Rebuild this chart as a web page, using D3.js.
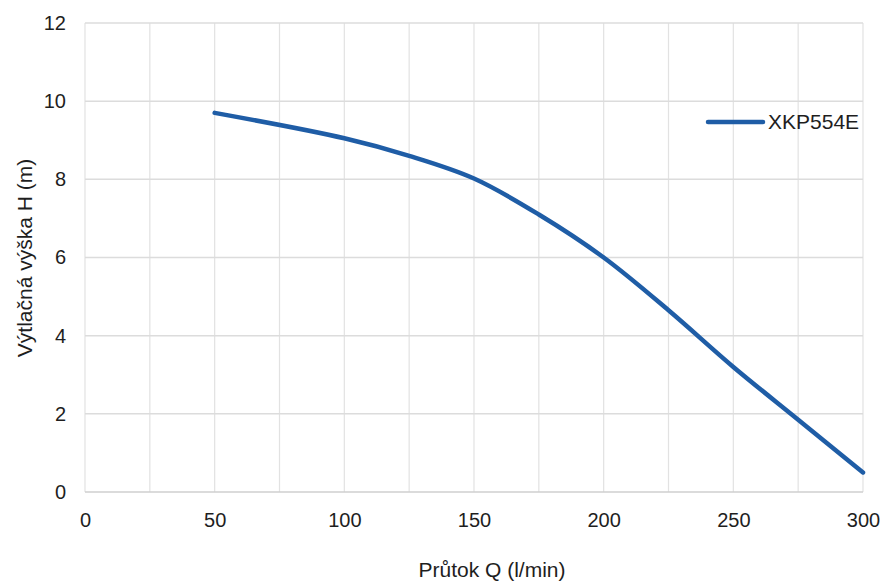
<!DOCTYPE html>
<html>
<head>
<meta charset="utf-8">
<script src="https://cdn.jsdelivr.net/npm/d3@7"></script>
<style>
  body { margin: 0; background: #fff; font-family: "Liberation Sans", Arial, sans-serif; }
  .tick text { fill: #1e1e1e; }
</style>
</head>
<body>
<svg id="chart"></svg>
<script>
let width = 884, height = 583;

// data
let flow = [50, 100, 125, 150, 175, 200, 225, 250, 275, 300];
let head = [9.7, 9.05, 8.6, 8.02, 7.1, 6.0, 4.65, 3.2, 1.85, 0.5];
let seriesName = 'XKP554E';
let xTicks = [0, 50, 100, 150, 200, 250, 300];
let xGrid = d3.range(0, 301, 25);
let yTicks = [0, 2, 4, 6, 8, 10, 12];

let padding = {left: 85, right: 21, top: 23, bottom: 91};

let svg = d3.select('#chart')
    .attr('width', width)
    .attr('height', height);

let x = d3.scaleLinear()
    .domain([0, 300])
    .range([padding.left, width - padding.right]);
let y = d3.scaleLinear()
    .domain([0, 12])
    .range([height - padding.bottom, padding.top]);

// grid
svg.append('g')
    .selectAll('line')
    .data(xGrid)
    .enter().append('line')
    .attr('x1', d => x(d)).attr('x2', d => x(d))
    .attr('y1', y(0)).attr('y2', y(12))
    .attr('stroke', '#e2e2e2')
    .attr('stroke-width', 1.2);
svg.append('g')
    .selectAll('line')
    .data(yTicks)
    .enter().append('line')
    .attr('x1', x(0)).attr('x2', x(300))
    .attr('y1', d => y(d)).attr('y2', d => y(d))
    .attr('stroke', d => d === 0 ? '#cfcfcf' : '#dcdcdc')
    .attr('stroke-width', 1.5);

// x axis labels
let axis_x = d3.axisBottom(x).tickValues(xTicks).tickSize(0).tickPadding(21);
svg.append('g')
    .attr('transform', `translate(0, ${y(0)})`)
    .call(axis_x)
    .attr('font-family', '"Liberation Sans", Arial, sans-serif')
    .attr('font-size', '20px')
    .call(g => g.select('.domain').remove());

// y axis labels
let axis_y = d3.axisLeft(y).tickValues(yTicks).tickSize(0).tickPadding(19);
svg.append('g')
    .attr('transform', `translate(${x(0)}, 0)`)
    .call(axis_y)
    .attr('font-family', '"Liberation Sans", Arial, sans-serif')
    .attr('font-size', '20px')
    .call(g => g.select('.domain').remove());

// axis titles
svg.append('text')
    .attr('x', 492).attr('y', 577)
    .attr('text-anchor', 'middle')
    .attr('font-size', '21px')
    .attr('fill', '#1e1e1e')
    .text('Průtok Q (l/min)');
svg.append('text')
    .attr('transform', `translate(32, ${258}) rotate(-90)`)
    .attr('text-anchor', 'middle')
    .attr('font-size', '21px')
    .attr('fill', '#1e1e1e')
    .text('Výtlačná výška H (m)');

// curve
let line = d3.line()
    .x((d, i) => x(flow[i]))
    .y(d => y(d))
    .curve(d3.curveCatmullRom);
svg.append('path')
    .datum(head)
    .attr('d', line)
    .attr('fill', 'none')
    .attr('stroke', '#1f5da6')
    .attr('stroke-width', 4.5)
    .attr('stroke-linecap', 'round');

// legend
let lg = svg.append('g').attr('transform', 'translate(708, 122)');
lg.append('line')
    .attr('x1', 0).attr('x2', 55)
    .attr('stroke', '#1f5da6')
    .attr('stroke-width', 4.5)
    .attr('stroke-linecap', 'round');
lg.append('text')
    .attr('x', 60).attr('dy', '0.35em')
    .attr('font-size', '21px')
    .attr('fill', '#1e1e1e')
    .text(seriesName);
</script>
</body>
</html>
